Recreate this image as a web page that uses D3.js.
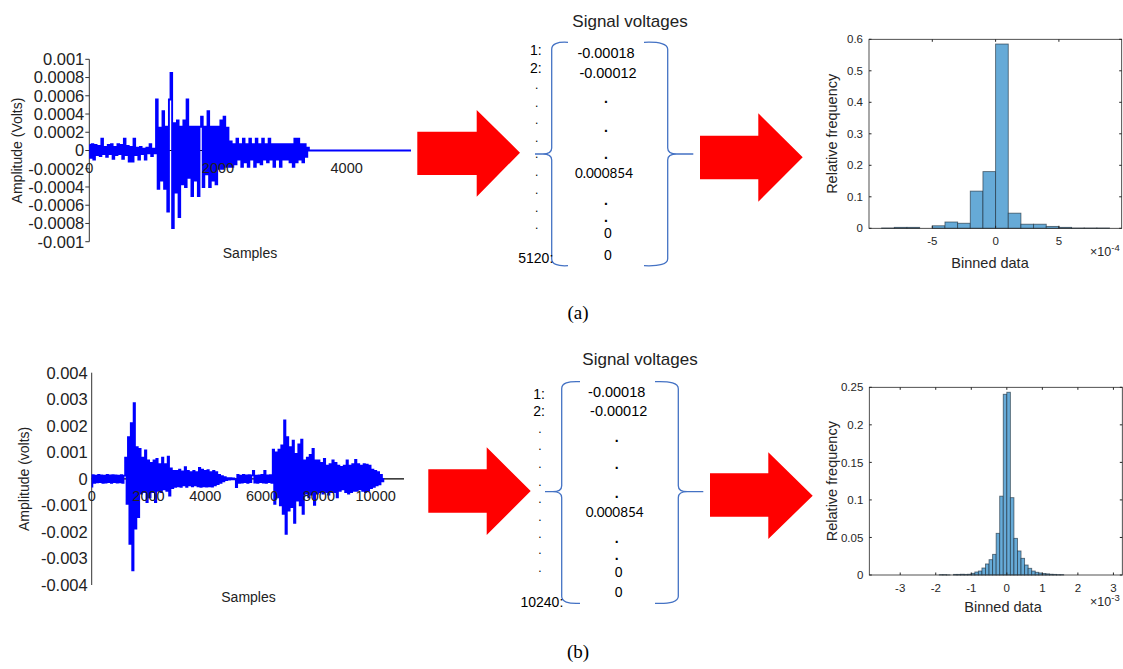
<!DOCTYPE html>
<html>
<head>
<meta charset="utf-8">
<script src="https://d3js.org/d3.v7.min.js"></script>
<style>
  body { margin: 0; background: #fff; }
  svg { display: block; font-family: Arial, "Liberation Sans", Helvetica, sans-serif; }
</style>
</head>
<body>
<svg id="fig" width="1123" height="669"></svg>
<script>
// ---------------- data ----------------
// (a) recording: alternating peaks, one every 25 samples, in 1e-4 V
var stepA = 25;
var waveA = [
  0.6,-0.8,0.7,-1.0,0.6,-0.5,0.5,-0.6,1.3,-0.4,
  0.4,-0.7,0.6,-0.4,0.7,-0.9,0.4,-0.5,0.7,-0.4,
  0.6,-0.9,1.3,-0.5,0.5,-1.2,0.4,-1.2,1.3,-0.5,
  0.3,-1.0,0.4,-0.4,0.2,-1.0,0.3,-0.3,0.7,-0.6,
  0.2,-0.3,5.6,-4.2,2.5,-3.3,4.3,-4.2,2.6,-6.7,
  5.6,8.5,-8.5,3.0,-4.6,3.3,-7.3,2.6,-3.7,3.3,
  -4.0,5.6,-3.0,2.6,-5.0,2.6,-3.3,2.6,-5.0,2.6,
  3.7,-4.0,2.6,-2.6,4.3,-4.0,2.6,-3.3,2.6,-3.7,
  2.6,-2.0,3.3,-2.0,3.7,-1.8,2.5,-1.8,1.0,-1.8,
  0.7,-1.5,1.3,-1.0,0.7,-1.8,1.3,-1.3,0.7,-1.8,
  1.3,-1.0,0.7,-1.8,1.3,-1.3,0.7,-1.5,1.3,-1.0,
  0.7,-1.3,1.3,-1.0,0.7,-1.8,0.7,-1.0,0.7,-1.8,
  0.7,-1.0,0.7,-1.0,0.7,-1.3,0.7,-1.8,1.3,-1.3,
  1.3,-1.0,0.7,-1.3,0.7,-0.7,0.3,0
];
var tailA = [5000, 0];            // the signal stays at zero up to here
var ticksA_y = [0.001,0.0008,0.0006,0.0004,0.0002,0,-0.0002,-0.0004,-0.0006,-0.0008,-0.001];
var ticksA_x = [0, 2000, 4000];

// (b) recording: alternating peaks, one every 50 samples, in 1e-4 V
var stepB = 50;
var waveB = [
  -2.9,1.4,-1.5,1.2,-1.3,1.5,-1.2,1.3,-1.5,1.2,-1.4,1.5,-1.2,1.3,-1.5,1.4,-1.2,1.3,-1.4,1.2,
  -1.3,1.4,-1.5,1.2,8.0,-9.4,15.7,-24.5,21,-34.5,28.5,-18.8,12,-14.4,11.3,-5.6,8.0,-5.0,10.7,-8.8,
  7.0,-7.0,6.0,-5.0,7.0,-8.8,7.5,-4.5,5.6,-5.0,8.0,-4.0,5.6,-4.5,8.4,-6.3,4.0,-3.5,3.0,-3.0,
  3.0,-2.8,3.5,-3.0,2.8,-2.5,4.4,-3.0,3.0,-2.5,2.5,-2.8,3.0,-2.5,2.5,-2.8,4.1,-3.0,3.5,-2.8,
  3.0,-2.9,3.3,-2.8,2.5,-2.9,3.0,-2.5,2.5,-2.0,1.5,-1.5,1.0,-1.0,0.7,-0.5,0.3,-0.3,0.3,-0.2,
  0.2,-0.2,-3.1,1.5,-1.5,1.2,-1.4,1.5,-1.2,1.3,-1.5,1.4,-1.2,1.3,3.0,-1.4,1.2,-1.5,1.3,-1.2,
  1.5,-1.4,3.0,-1.5,1.3,-1.2,1.4,-1.5,11,-9.4,10,-7.0,11,-10,12.6,-13.2,22,-20.7,15.7,-12,
  12,-10.7,14.4,-16.6,9.4,-8.2,13,-10,14.8,-13.2,7.0,-5.6,8.0,-7.0,9.0,-6.0,11.3,-9.8,7.0,-5.6,
  7.0,-5.0,6.0,-5.6,7.5,-5.0,5.0,-6.0,5.6,-5.0,7.0,-5.0,6.0,-7.0,5.0,-4.5,4.5,-4.0,5.0,-5.0,
  7.0,-5.6,5.0,-5.0,5.6,-4.5,7.2,-4.5,5.6,-4.0,5.0,-4.5,5.6,-5.0,5.4,-4.5,5.0,-3.5,3.5,-3.0,
  3.0,-2.5,2.5,-2.1,1.5,-1.0,0
];
var ticksB_y = [0.004,0.003,0.002,0.001,0,-0.001,-0.002,-0.003,-0.004];
var ticksB_x = [0, 2000, 4000, 6000, 8000, 10000];

// (a) histogram: bins of 1e-4 V from -9 to 9 (x axis in 1e-4 units)
var histA_start = -9, histA_width = 1;
var histA = [0.001,0.003,0.003,0,0.008,0.020,0.016,0.118,0.180,0.585,
             0.048,0.013,0.013,0.006,0.003,0.001,0.001,0.001];
var histA_xticks = [-5, 0, 5];
var histA_yticks = [0, 0.1, 0.2, 0.3, 0.4, 0.5, 0.6];

// (b) histogram: bins of 1e-4 V from -1.9e-3 to 1.6e-3 (x axis in 1e-3 units)
var histB_start = -1.9, histB_width = 0.1;
var histB = [0.0005,0.0005,0.0002,0,0.0008,0.0008,0.001,0.0008,0.001,0.0022,
             0.004,0.0053,0.0093,0.0147,0.0204,0.0275,0.0555,0.105,0.2407,0.2434,
             0.103,0.0488,0.032,0.0222,0.0133,0.0089,0.0053,0.0036,0.0027,0.002,
             0.0015,0.001,0.0008,0.0005,0.0005];
var histB_xticks = [-3, -2, -1, 0, 1, 2, 3];
var histB_yticks = [0, 0.05, 0.1, 0.15, 0.2, 0.25];

// the listed voltages
var listRowsA = ["1:", "2:", "5120:"];
var listRowsB = ["1:", "2:", "10240:"];
var listVals = ["-0.00018", "-0.00012", "0.000854", "0", "0"];

var svg = d3.select("#fig");
var textCol = "#222";
var axCol = "#262626";

// ---------------- waveforms ----------------
function drawWave(o) {
  var g = svg.append("g");
  var x = d3.scaleLinear().domain([0, o.xmax]).range([o.x0, o.x1]);
  var y = d3.scaleLinear().domain([o.ymin, o.ymax]).range([o.yb, o.yt]);

  g.append("line")
    .attr("x1", o.x0).attr("x2", o.x0)
    .attr("y1", y(o.ymax)).attr("y2", y(o.ymin))
    .attr("stroke", "#333").attr("stroke-width", 1);

  if (o.tickLen) {
    g.selectAll(".yt").data(o.yticks).enter().append("line")
      .attr("x1", o.x0 - o.tickLen).attr("x2", o.x0)
      .attr("y1", function(d) { return y(d); }).attr("y2", function(d) { return y(d); })
      .attr("stroke", "#333");
  }
  g.selectAll(".yl").data(o.yticks).enter().append("text")
    .attr("x", o.x0 - o.labGap)
    .attr("y", function(d) { return y(d); })
    .attr("dy", "0.36em")
    .attr("text-anchor", "end")
    .attr("font-size", 16.5).attr("fill", textCol)
    .text(function(d) { return String(d); });

  // x axis on the zero line
  g.append("line")
    .attr("x1", o.x0).attr("x2", x(o.xmax))
    .attr("y1", y(0)).attr("y2", y(0))
    .attr("stroke", "#000").attr("stroke-width", 1.2);

  // signal, drawn sample-and-hold so the dense recording reads as a solid band of strokes
  var line = d3.line()
    .x(function(d) { return x(d[0]); })
    .y(function(d) { return y(d[1]); })
    .curve(d3.curveStep);
  g.append("path")
    .datum(o.points)
    .attr("d", line)
    .attr("fill", "none")
    .attr("stroke", "#0000ff")
    .attr("stroke-width", o.lw);

  g.selectAll(".xl").data(o.xticks).enter().append("text")
    .attr("x", function(d) { return x(d); })
    .attr("y", y(0) + 17)
    .attr("dy", "0.36em")
    .attr("text-anchor", "middle")
    .attr("font-size", 14.5).attr("fill", textCol)
    .text(function(d) { return String(d); });

  g.append("text")
    .attr("transform", "translate(" + o.ylabX + "," + ((y(o.ymax) + y(o.ymin)) / 2) + ") rotate(-90)")
    .attr("text-anchor", "middle").attr("dy", "0.36em")
    .attr("font-size", 14).attr("fill", textCol)
    .text(o.ylabel);
  g.append("text")
    .attr("x", o.xlabX).attr("y", o.xlabY)
    .attr("text-anchor", "middle").attr("dy", "0.36em")
    .attr("font-size", 14).attr("fill", textCol)
    .text("Samples");
}

var pointsA = waveA.map(function(v, i) { return [i * stepA, v * 1e-4]; });
pointsA.push(tailA);
drawWave({
  points: pointsA, xmax: 5000, ymin: -0.001, ymax: 0.001,
  x0: 89.3, x1: 411, yt: 59.3, yb: 241.7, lw: 1.9,
  yticks: ticksA_y, xticks: ticksA_x, tickLen: 4, labGap: 5,
  ylabel: "Amplitude (Volts)", ylabX: 17, xlabX: 250, xlabY: 252.5
});

var pointsB = waveB.map(function(v, i) { return [i * stepB, v * 1e-4]; });
drawWave({
  points: pointsB, xmax: 11000, ymin: -0.004, ymax: 0.004,
  x0: 91.7, x1: 404, yt: 372.7, yb: 585, lw: 1.7,
  yticks: ticksB_y, xticks: ticksB_x, tickLen: 0, labGap: 4,
  ylabel: "Amplitude (volts)", ylabX: 23.5, xlabX: 248.5, xlabY: 596.7
});

// ---------------- histograms ----------------
function drawHist(o) {
  var g = svg.append("g");
  var x = d3.scaleLinear().domain(o.xdom).range([o.x0, o.x1]);
  var y = d3.scaleLinear().domain([0, o.ymax]).range([o.yb, o.yt]);
  var bins = o.counts.map(function(c, i) {
    return { a: o.start + i * o.width, b: o.start + (i + 1) * o.width, v: c };
  });

  g.selectAll("rect.bar").data(bins.filter(function(d) { return d.v > 0; })).enter().append("rect")
    .attr("class", "bar")
    .attr("x", function(d) { return x(d.a); })
    .attr("width", function(d) { return x(d.b) - x(d.a); })
    .attr("y", function(d) { return y(d.v); })
    .attr("height", function(d) { return y(0) - y(d.v); })
    .attr("fill", "#66aad7")
    .attr("stroke", "#1a2a36").attr("stroke-opacity", 0.65)
    .attr("stroke-width", 0.9);

  var tl = 2.5;
  o.xticks.forEach(function(t) {
    g.append("line").attr("x1", x(t)).attr("x2", x(t)).attr("y1", o.yb).attr("y2", o.yb - tl).attr("stroke", axCol);
    g.append("line").attr("x1", x(t)).attr("x2", x(t)).attr("y1", o.yt).attr("y2", o.yt + tl).attr("stroke", axCol);
    g.append("text").attr("x", x(t)).attr("y", o.yb + 13).attr("dy", "0.36em")
      .attr("text-anchor", "middle").attr("font-size", 11.5).attr("fill", axCol).text(String(t));
  });
  o.yticks.forEach(function(t) {
    g.append("line").attr("x1", o.x0).attr("x2", o.x0 + tl).attr("y1", y(t)).attr("y2", y(t)).attr("stroke", axCol);
    g.append("line").attr("x1", o.x1).attr("x2", o.x1 - tl).attr("y1", y(t)).attr("y2", y(t)).attr("stroke", axCol);
    g.append("text").attr("x", o.x0 - 6).attr("y", y(t)).attr("dy", "0.36em")
      .attr("text-anchor", "end").attr("font-size", 11.5).attr("fill", axCol).text(String(t));
  });

  g.append("rect")
    .attr("x", o.x0).attr("y", o.yt)
    .attr("width", o.x1 - o.x0).attr("height", o.yb - o.yt)
    .attr("fill", "none").attr("stroke", axCol).attr("stroke-width", 0.8);

  g.append("text")
    .attr("transform", "translate(831.7," + ((o.yt + o.yb) / 2) + ") rotate(-90)")
    .attr("text-anchor", "middle").attr("dy", "0.36em")
    .attr("font-size", 14.5).attr("fill", axCol)
    .text("Relative frequency");
  g.append("text")
    .attr("x", o.xlabX).attr("y", o.xlabY)
    .attr("text-anchor", "middle")
    .attr("font-size", 14.5).attr("fill", axCol)
    .text("Binned data");
  var ex = g.append("text")
    .attr("x", 1090).attr("y", o.expY)
    .attr("font-size", 12.5).attr("fill", axCol);
  ex.append("tspan").text("\u00d710");
  ex.append("tspan").attr("dy", -5).attr("font-size", 9.5).text(o.exp);
}

drawHist({
  counts: histA, start: histA_start, width: histA_width,
  xdom: [-10, 9.96], ymax: 0.6,
  x0: 869, x1: 1121.7, yt: 39.3, yb: 228.3,
  xticks: histA_xticks, yticks: histA_yticks,
  xlabX: 990, xlabY: 268, expY: 256, exp: "-4"
});
drawHist({
  counts: histB, start: histB_start, width: histB_width,
  xdom: [-3.87, 3.25], ymax: 0.25,
  x0: 869.3, x1: 1122.3, yt: 387.3, yb: 575,
  xticks: histB_xticks, yticks: histB_yticks,
  xlabX: 1003, xlabY: 611.7, expY: 606, exp: "-3"
});

// ---------------- arrows ----------------
function drawArrow(a) {
  var pts = [
    [a.x0, a.s0], [a.hx, a.s0], [a.hx, a.h0], [a.tx, a.ty],
    [a.hx, a.h1], [a.hx, a.s1], [a.x0, a.s1]
  ];
  svg.append("polygon")
    .attr("points", pts.map(function(p) { return p.join(","); }).join(" "))
    .attr("fill", "#ff0000");
}
drawArrow({ x0: 417.3, s0: 131.7, s1: 175, hx: 476.7, h0: 110, h1: 196.7, tx: 520, ty: 152.7 });
drawArrow({ x0: 700, s0: 135.7, s1: 179.3, hx: 758.3, h0: 113.3, h1: 201.7, tx: 802.7, ty: 157.3 });
drawArrow({ x0: 428.3, s0: 469.3, s1: 512.7, hx: 486.7, h0: 447.3, h1: 535, tx: 530.7, ty: 491 });
drawArrow({ x0: 710, s0: 473.3, s1: 516.7, hx: 768.3, h0: 452.3, h1: 539, tx: 812.7, ty: 495.7 });

// ---------------- braces ----------------
function brace(xv, xEnd, yTop, yMid, yBot, xTip) {
  var s = xTip < xv ? -1 : 1;
  var p = d3.path();
  p.moveTo(xEnd, yTop);
  p.quadraticCurveTo(xv, yTop - 1, xv, yTop + 7);
  p.lineTo(xv, yMid - 6);
  p.quadraticCurveTo(xv, yMid, xv + s * 9, yMid);
  p.lineTo(xTip, yMid);
  p.moveTo(xv + s * 9, yMid);
  p.quadraticCurveTo(xv, yMid, xv, yMid + 6);
  p.lineTo(xv, yBot - 7);
  p.quadraticCurveTo(xv, yBot + 1, xEnd, yBot);
  svg.append("path").attr("d", p.toString())
    .attr("fill", "none").attr("stroke", "#4472c4").attr("stroke-width", 1.3);
}
brace(551.7, 568, 42.3, 154, 265.7, 535);
brace(667.7, 644, 42.3, 154, 265.7, 693.3);
brace(561.7, 580, 381.7, 491.7, 603.3, 545);
brace(678.3, 655, 381.7, 491.7, 603.3, 703.3);

// ---------------- listed voltages ----------------
function drawList(o) {
  var g = svg.append("g").attr("fill", "#000");
  g.append("text").attr("x", o.titleX).attr("y", o.titleY)
    .attr("text-anchor", "middle").attr("font-size", 17).attr("fill", "#222")
    .text("Signal voltages");
  // row numbers
  g.append("text").attr("x", o.rowX).attr("y", o.r1).attr("text-anchor", "end").attr("font-size", 14).text(o.rows[0]);
  g.append("text").attr("x", o.rowX).attr("y", o.r2).attr("text-anchor", "end").attr("font-size", 14).text(o.rows[1]);
  g.append("text").attr("x", o.lastX).attr("y", o.rLast).attr("text-anchor", "end").attr("font-size", 14).text(o.rows[2]);
  o.rowDots.forEach(function(yy) {
    g.append("text").attr("x", o.dotX).attr("y", yy + 1).attr("text-anchor", "middle")
      .attr("font-size", 12).attr("fill", "#000").text(".");
  });
  // values
  var vy = o.valY;
  g.append("text").attr("x", o.valX + 0).attr("y", vy[0]).attr("text-anchor", "middle").attr("font-size", 14.5).text(listVals[0]);
  g.append("text").attr("x", o.valX + 2).attr("y", vy[1]).attr("text-anchor", "middle").attr("font-size", 14.5).text(listVals[1]);
  g.append("text").attr("x", o.valX - 2).attr("y", vy[2]).attr("text-anchor", "middle").attr("font-size", 13.5)
    .attr("font-family", "Lato, 'Open Sans', sans-serif").text(listVals[2]);
  g.append("text").attr("x", o.valX + 2).attr("y", vy[3]).attr("text-anchor", "middle").attr("font-size", 14).text(listVals[3]);
  g.append("text").attr("x", o.valX + 2).attr("y", vy[4]).attr("text-anchor", "middle").attr("font-size", 14).text(listVals[4]);
  o.valDots.forEach(function(yy) {
    g.append("text").attr("x", o.valX).attr("y", yy + 1.5).attr("text-anchor", "middle")
      .attr("font-size", 14).attr("font-weight", "bold").text(".");
  });
}
drawList({
  titleX: 630, titleY: 26.7, rows: listRowsA,
  rowX: 541.7, r1: 55, r2: 72.7, lastX: 553.3, rLast: 263.3,
  dotX: 536.7, rowDots: [88.3, 106, 123.3, 140.7, 156.7, 175, 192.7, 210.7, 228.3],
  valX: 606, valY: [58, 78, 178, 238, 260], valDots: [101.7, 130, 157, 203, 220]
});
drawList({
  titleX: 640, titleY: 365, rows: listRowsB,
  rowX: 545, r1: 399.3, r2: 416, lastX: 563.3, rLast: 606.7,
  dotX: 540, rowDots: [431.7, 449, 466.7, 485, 502.3, 520, 537.3, 553.3, 570.7],
  valX: 616.7, valY: [396.7, 416, 516.7, 576.7, 597.3], valDots: [440, 467.7, 496, 541.7, 558.3]
});

// ---------------- captions ----------------
svg.append("text").attr("x", 578).attr("y", 319).attr("text-anchor", "middle")
  .attr("font-family", "'Liberation Serif', 'Times New Roman', serif").attr("font-size", 19).text("(a)");
svg.append("text").attr("x", 578).attr("y", 658).attr("text-anchor", "middle")
  .attr("font-family", "'Liberation Serif', 'Times New Roman', serif").attr("font-size", 19).text("(b)");
</script>
</body>
</html>
